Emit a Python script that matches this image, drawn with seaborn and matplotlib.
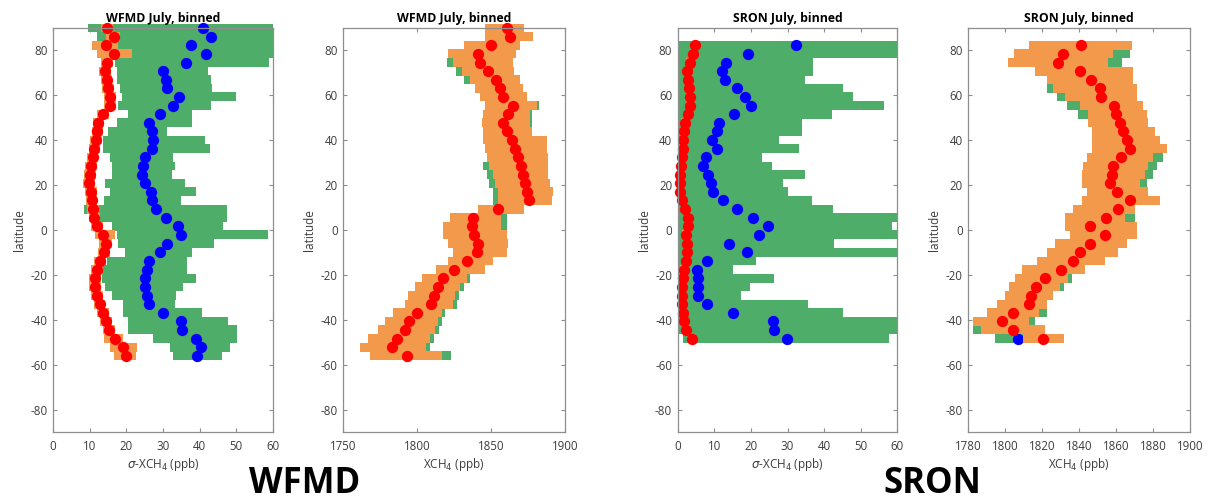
import numpy as np
import matplotlib
matplotlib.use("Agg")
import matplotlib.pyplot as plt
import seaborn as sns

# ---------------- data ----------------
lat = [90.0, 86.2, 82.3, 78.5, 74.6, 70.8, 66.9, 63.1, 59.3, 55.4, 51.6, 47.7, 43.9,
       40.1, 36.2, 32.4, 28.5, 24.7, 20.8, 17.0, 13.2, 9.3, 5.5, 1.6, -2.2, -6.1,
       -9.9, -13.8, -17.6, -21.5, -25.3, -29.2, -33.0, -36.8, -40.7, -44.5, -48.4,
       -52.2, -56.1]
lat_sron = [82.3, 78.5, 74.6, 70.8, 66.9, 63.1, 59.3, 55.4, 51.6, 47.7, 43.9,
            40.1, 36.2, 32.4, 28.5, 24.7, 20.8, 17.0, 13.2, 9.3, 5.5, 1.6, -2.2, -6.1,
            -9.9, -13.8, -17.6, -21.5, -25.3, -29.2, -33.0, -36.8, -40.7, -44.5, -48.4]

# WFMD sigma-XCH4
wfmd_sig_green_lo = [9.6, 12, 12, 13, 17, 17.4, 17.5, 18.3, 18.7, 17.8, 20.5, 17.4, 15,
                     13.7, 13.7, 15.5, 16, 16, 14.2, 15.5, 14, 8.5, 10, 16, 17.4, 17.6,
                     19.6, 14.6, 13.3, 13.3, 14.2, 16, 19, 19, 20.5, 20.5, 27.4, 32, 32.6]
wfmd_sig_green_hi = [60, 60, 60, 60, 59, 42.4, 43, 43.3, 50, 43, 38, 38, 31, 41.5, 42.8,
                     32.8, 33.3, 32.4, 36, 39, 35, 47.5, 47.5, 46.3, 58.7, 44, 38, 36.5,
                     36.5, 39, 35.4, 33.5, 33.3, 40.5, 47.8, 50.3, 50.3, 48.3, 46]
wfmd_sig_orange_lo = [13, 14.5, 10.5, 12, 13, 12.6, 13, 13.4, 13.9, 13.9, 12, 10.8, 10.5,
                      10.1, 9.7, 9.2, 8.7, 8.5, 8.3, 8.7, 8.9, 9.4, 9.7, 10.3, 11.5, 12.5,
                      12.4, 11.2, 10.4, 9.9, 9.9, 10.3, 11.1, 12, 12.9, 13.6, 14, 15.5, 16.5]
wfmd_sig_orange_hi = [16.5, 18.3, 17.8, 21.5, 16.5, 15.8, 16.2, 16.6, 17.1, 17.1, 15.3, 14,
                      13.7, 13.3, 12.9, 12.4, 11.9, 11.7, 11.5, 11.9, 12.1, 12.6, 12.9, 13.5,
                      17, 16, 15.6, 14.4, 13.6, 13.1, 13.1, 13.5, 14.3, 15.2, 16.1, 16.8,
                      19, 22.8, 22.5]
wfmd_sig_red = [14.8, 16.5, 14.5, 16.5, 14.8, 14.2, 14.6, 15, 15.5, 15.5, 13.7, 12.4, 12.1,
                11.7, 11.3, 10.8, 10.3, 10.1, 9.9, 10.3, 10.5, 11, 11.3, 11.9, 13.5, 14.4,
                14.0, 12.8, 12.0, 11.5, 11.5, 11.9, 12.7, 13.6, 14.5, 15.2, 16.9, 19.2, 19.9]
wfmd_sig_blue = [40.8, 43, 37.5, 41.6, 36.2, 29.9, 30.7, 31.2, 34.3, 32.8, 29.2, 26.3, 27,
                 27.2, 27, 25, 24.5, 24.3, 25, 26.6, 27, 28, 30.7, 34, 35, 31, 29.2, 26.3,
                 25.5, 25.2, 25.2, 25.5, 26.3, 30, 35, 35.3, 39, 40.3, 39.4]

# WFMD XCH4
wfmd_x_green_lo = [1846, 1846, 1832, 1821, 1820.4, 1826, 1831.7, 1839, 1842.5, 1846, 1844.3,
                   1843.6, 1844.3, 1844.7, 1846, 1847, 1844.8, 1847.5, 1848.6, 1851, 1851,
                   1841, 1822, 1817.7, 1817.7, 1821, 1824.4, 1821, 1813, 1803, 1798.5, 1794,
                   1791.7, 1783.8, 1778, 1773.7, 1767, 1761, 1768]
wfmd_x_green_hi = [1872, 1878.6, 1869.6, 1867, 1865, 1865.5, 1869.6, 1871.8, 1874, 1882.5,
                   1877.5, 1877.8, 1877.5, 1887.6, 1887.6, 1888.7, 1888.7, 1888.7, 1889.9,
                   1892, 1891, 1872, 1861, 1861, 1860.5, 1861.7, 1860.5, 1851.5, 1846, 1836,
                   1831.5, 1828.1, 1826.9, 1819, 1816.8, 1814.5, 1811.2, 1808.5, 1822.6]
wfmd_x_orange_lo = [1846, 1846, 1832, 1821, 1824.4, 1830, 1835.7, 1839, 1842.5, 1846, 1844.3,
                    1843.6, 1844.3, 1844.7, 1846, 1847, 1848.8, 1851.5, 1852.6, 1855, 1855,
                    1841, 1822, 1817.7, 1817.7, 1821, 1824.4, 1821, 1813, 1803, 1798.5, 1794,
                    1791.7, 1783.8, 1778, 1773.7, 1767, 1761, 1768]
wfmd_x_orange_hi = [1872, 1878.6, 1869.6, 1867, 1865, 1865.5, 1869.6, 1871.8, 1874, 1881,
                    1876, 1876.3, 1877.5, 1887.6, 1887.6, 1888.7, 1888.7, 1888.7, 1889.9,
                    1892, 1891, 1872, 1857, 1857, 1860.5, 1861.7, 1860.5, 1851.5, 1846,
                    1833.5, 1829, 1825.6, 1824.4, 1816.5, 1814.3, 1812, 1808.7, 1806, 1817]
wfmd_x_red = [1861, 1862.8, 1850, 1841, 1842.5, 1848, 1853, 1856, 1858, 1864.6, 1861.7,
              1858, 1861, 1864, 1866, 1868.4, 1870, 1871.4, 1873, 1874.5, 1875.9, 1855,
              1838, 1836.8, 1838.4, 1841.4, 1840.3, 1833.9, 1824.8, 1817.6, 1814.3, 1811.3,
              1809.3, 1799.6, 1794.4, 1791.7, 1786.5, 1782.7, 1793.3]

# SRON sigma-XCH4
sron_sig_green_lo = [0, 0, 0, 0, 0, 0, 0, 0, 0, 0, 0, 0, 0, 0, 0, 0, 0, 0, 0, 0, 0, 0, 0,
                     0, 0, 0, 0, 0, 0, 0, 0, 0, 0, 0, 1.4]
sron_sig_green_hi = [60, 60, 37.1, 37.1, 34.8, 45.3, 48.0, 56.4, 42.1, 33.9, 33.9, 27.8,
                     33.2, 23.0, 25.9, 34.8, 28.9, 30.2, 36.6, 42.5, 60, 58.5, 60, 42.7, 60,
                     21.4, 15.2, 26.4, 19.8, 17.3, 35.7, 45.1, 60, 60, 57.8]
sron_sig_red = [4.7, 4.3, 3.4, 2.6, 2.9, 3.2, 3.4, 3.4, 2.9, 2.0, 1.7, 1.5, 1.4, 1.1, 0.8,
                0.6, 0.5, 0.6, 1.1, 2.0, 2.9, 2.9, 2.3, 2.6, 2.5, 2.3, 1.7, 1.4, 1.1, 1.1,
                1.1, 1.4, 1.7, 2.3, 3.8]
sron_sig_orange_lo = [3.7, 3.3, 2.4, 1.6, 1.9, 2.2, 2.4, 2.4, 1.9, 1.0, 0.7, 0.5, 0.4, 0.1,
                      0.0, 0.0, 0.0, 0.0, 0.1, 1.0, 1.9, 1.9, 1.3, 1.6, 1.5, 1.3, 0.7, 0.4,
                      0.1, 0.1, 0.1, 0.4, 0.7, 1.3, 2.8]
sron_sig_orange_hi = [5.7, 5.3, 4.4, 3.6, 3.9, 4.2, 4.4, 4.4, 3.9, 3.0, 2.7, 2.5, 2.4, 2.1,
                      1.8, 1.6, 1.5, 1.6, 2.1, 3.0, 3.9, 3.9, 3.3, 3.6, 3.5, 3.3, 2.7, 2.4,
                      2.1, 2.1, 2.1, 2.4, 2.7, 3.3, 4.8]
sron_sig_blue = [32.3, 19.3, 13.1, 12.0, 12.9, 16.1, 18.4, 19.9, 15.4, 11.3, 10.8, 9.5, 10.8,
                 7.7, 6.8, 8.4, 9.0, 9.7, 12.5, 16.1, 20.5, 24.6, 22.3, 14.0, 19.0, 7.9, 5.4,
                 5.6, 5.6, 5.6, 7.9, 15.2, 26.0, 26.4, 29.8]

# SRON XCH4
sron_x_green_lo = [1812.9, 1804.7, 1801.7, 1816.1, 1822.4, 1822.4, 1827.8, 1833.2, 1839.6,
                   1845, 1846.8, 1846.8, 1846.8, 1844.1, 1842.3, 1841.4, 1841.4, 1844.1,
                   1841.4, 1836.9, 1832.3, 1832.3, 1835.1, 1826.9, 1822.4, 1817, 1808.9,
                   1805.3, 1802.2, 1799.9, 1795.7, 1790.3, 1782.7, 1782.7, 1794.4]
sron_x_green_hi = [1868.8, 1867.5, 1863, 1869.4, 1869.4, 1871.5, 1871.5, 1874.8, 1876.6,
                   1877.5, 1881.1, 1883.8, 1887.4, 1885.6, 1882, 1880, 1876.6, 1877.5,
                   1883.8, 1870.3, 1870, 1871.2, 1871.2, 1865.7, 1861.2, 1854, 1843.2,
                   1836.3, 1832, 1825.7, 1822.8, 1822.8, 1816, 1821.5, 1831.8]
sron_x_orange_lo = [1812.9, 1804.7, 1801.7, 1816.1, 1822.4, 1826, 1832.3, 1840.5, 1845,
                    1845, 1846.8, 1846.8, 1846.8, 1844.1, 1842.3, 1841.4, 1841.4, 1844.1,
                    1841.4, 1836.9, 1832.3, 1832.3, 1835.1, 1826.9, 1822.4, 1817, 1808.9,
                    1805.3, 1802.2, 1799.9, 1795.7, 1790.3, 1782.7, 1786.7, 1809.8]
sron_x_orange_hi = [1868.8, 1858.5, 1855.8, 1869.4, 1869.4, 1871.5, 1871.5, 1874.8, 1876.6,
                    1877.5, 1881.1, 1883.8, 1887.4, 1880, 1877.5, 1875.7, 1873, 1877.5,
                    1883.8, 1870.3, 1865, 1871.2, 1871.2, 1865.7, 1861.2, 1854, 1843.2,
                    1834.2, 1829.6, 1825.7, 1822.8, 1818.4, 1813, 1821.5, 1831.8]
sron_x_red = [1841.0, 1831.4, 1828.4, 1840.5, 1846.4, 1851.3, 1851.7, 1859.1, 1860.0,
              1862.1, 1863.9, 1865.7, 1867.5, 1862.5, 1858.5, 1857.6, 1856.7, 1860.3,
              1867.5, 1861.2, 1854.5, 1845.9, 1854.0, 1845.9, 1840.5, 1836.9, 1830.0,
              1821.5, 1816.5, 1813.8, 1812.9, 1804.4, 1798.1, 1804.4, 1820.6]
sron_x_blue_lat = [-48.4]
sron_x_blue = [1807.1]

titles = ["WFMD July, binned", "WFMD July, binned", "SRON July, binned", "SRON July, binned"]
ytick_vals = [-80, -60, -40, -20, 0, 20, 40, 60, 80]

# ---------------- style ----------------
sns.set_theme(style="white")
plt.rcParams['font.family'] = ['Open Sans', 'DejaVu Sans']
plt.rcParams['axes.unicode_minus'] = False

GREEN = "#4EAD68"
ORANGE = "#F3994C"
RED = "#FF0000"
BLUE = "#0000FF"
SPINE = "#8E8E8E"
TXT = "#3C3C3C"
BIN_H = 3.98
MS = 66

fig = plt.figure(figsize=(12.1, 5.04), dpi=100)
W, H = 1210.0, 504.0
bot = 1 - 432 / H
hgt = 404 / H
rects = [(53, 220), (343.3, 221.7), (677.7, 219.6), (968.3, 221.7)]
axes = [fig.add_axes([x / W, bot, w / W, hgt]) for x, w in rects]


def bars(ax, lats, lo, hi, color, z):
    lo = np.asarray(lo, float)
    hi = np.asarray(hi, float)
    ax.barh(lats, hi - lo, left=lo, height=BIN_H, color=color, linewidth=0,
            zorder=z, clip_on=False)


def dots(ax, x, y, color, z):
    sns.scatterplot(x=x, y=y, ax=ax, color=color, s=MS, linewidth=0,
                    zorder=z, clip_on=False, legend=False)


def style(ax, title, xlim, xticks, xlabel):
    ax.set_xlim(*xlim)
    ax.set_ylim(-90, 90)
    ax.set_xticks(xticks)
    ax.set_yticks(ytick_vals)
    ax.set_title(title, fontsize=8.8, fontweight='bold', pad=4, color='black')
    ax.set_xlabel(xlabel, fontsize=8.5, color=TXT, labelpad=2)
    ax.set_ylabel("latitude", fontsize=8.5, color=TXT, labelpad=3)
    ax.tick_params(direction='in', length=3, width=0.8, color=SPINE,
                   labelsize=8.3, labelcolor=TXT, pad=4,
                   top=True, right=True, bottom=True, left=True)
    ax.tick_params(axis='x', pad=6)
    for s in ax.spines.values():
        s.set_visible(True)
        s.set_color(SPINE)
        s.set_linewidth(0.9)
        s.set_zorder(6)
    ax.set_facecolor('white')


# Panel 1
ax = axes[0]
bars(ax, lat, wfmd_sig_green_lo, wfmd_sig_green_hi, GREEN, 1)
dots(ax, wfmd_sig_blue, lat, BLUE, 2)
bars(ax, lat, wfmd_sig_orange_lo, wfmd_sig_orange_hi, ORANGE, 3)
dots(ax, wfmd_sig_red, lat, RED, 4)
style(ax, titles[0], (0, 60), [0, 10, 20, 30, 40, 50, 60], r"$\sigma$-XCH$_4$ (ppb)")

# Panel 2
ax = axes[1]
bars(ax, lat, wfmd_x_green_lo, wfmd_x_green_hi, GREEN, 1)
bars(ax, lat, wfmd_x_orange_lo, wfmd_x_orange_hi, ORANGE, 3)
dots(ax, wfmd_x_red, lat, RED, 4)
style(ax, titles[1], (1750, 1900), [1750, 1800, 1850, 1900], r"XCH$_4$ (ppb)")

# Panel 3
ax = axes[2]
bars(ax, lat_sron, sron_sig_green_lo, sron_sig_green_hi, GREEN, 1)
dots(ax, sron_sig_blue, lat_sron, BLUE, 2)
bars(ax, lat_sron, sron_sig_orange_lo, sron_sig_orange_hi, ORANGE, 3)
dots(ax, sron_sig_red, lat_sron, RED, 4)
style(ax, titles[2], (0, 60), [0, 10, 20, 30, 40, 50, 60], r"$\sigma$-XCH$_4$ (ppb)")

# Panel 4
ax = axes[3]
bars(ax, lat_sron, sron_x_green_lo, sron_x_green_hi, GREEN, 1)
dots(ax, sron_x_blue, sron_x_blue_lat, BLUE, 2)
bars(ax, lat_sron, sron_x_orange_lo, sron_x_orange_hi, ORANGE, 3)
dots(ax, sron_x_red, lat_sron, RED, 4)
style(ax, titles[3], (1780, 1900), [1780, 1800, 1820, 1840, 1860, 1880, 1900], r"XCH$_4$ (ppb)")

fig.text(305 / W, 1 - 493 / H, "WFMD", fontsize=25, fontweight='bold',
         ha='center', va='baseline', color='black')
fig.text(932 / W, 1 - 493 / H, "SRON", fontsize=25, fontweight='bold',
         ha='center', va='baseline', color='black')

fig.savefig("out.png", dpi=100, facecolor='white')
